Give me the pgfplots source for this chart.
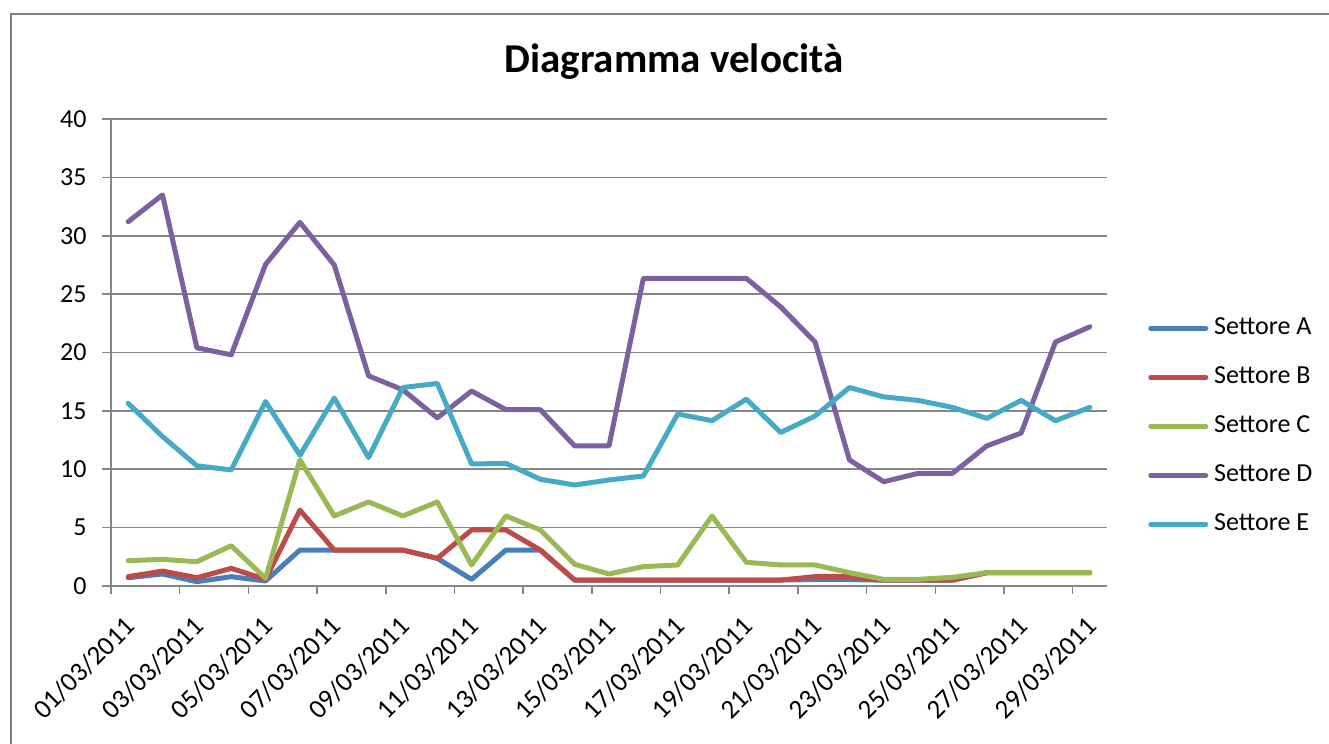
\documentclass[border=0pt]{standalone}
\usepackage{fontspec}
\setmainfont{Carlito}
\usepackage{pgfplots}
\usepackage{pgfplotstable}
\pgfplotsset{compat=1.18}
\definecolor{cA}{RGB}{74,126,187}
\definecolor{cB}{RGB}{190,75,72}
\definecolor{cC}{RGB}{152,185,84}
\definecolor{cD}{RGB}{125,96,160}
\definecolor{cE}{RGB}{70,170,197}
\definecolor{gridgray}{RGB}{134,134,134}
\definecolor{framegray}{RGB}{128,128,128}
\pgfplotstableread{
i A B C D E
0 0.71 0.80 2.17 31.2 15.65
1 1.03 1.28 2.28 33.5 12.8
2 0.37 0.71 2.08 20.4 10.3
3 0.80 1.51 3.45 19.8 9.94
4 0.43 0.57 0.66 27.55 15.8
5 3.08 6.5 10.8 31.15 11.2
6 3.08 3.08 6.0 27.5 16.1
7 3.08 3.08 7.2 18.0 11.0
8 3.08 3.08 6.0 16.8 17.0
9 2.37 2.37 7.2 14.4 17.35
10 0.57 4.8 1.8 16.7 10.45
11 3.08 4.8 6.0 15.1 10.5
12 3.08 3.08 4.8 15.1 9.14
13 0.51 0.51 1.86 12.0 8.65
14 0.51 0.51 1.03 12.0 9.08
15 0.51 0.51 1.66 26.35 9.42
16 0.51 0.51 1.8 26.35 14.73
17 0.51 0.51 6.0 26.35 14.16
18 0.51 0.51 2.03 26.35 16.0
19 0.51 0.51 1.8 23.9 13.15
20 0.55 0.8 1.8 20.9 14.56
21 0.55 0.8 1.14 10.8 17.0
22 0.5 0.5 0.57 8.93 16.2
23 0.5 0.5 0.57 9.65 15.9
24 0.5 0.5 0.74 9.65 15.3
25 1.14 1.14 1.14 12.0 14.36
26 1.14 1.14 1.14 13.1 15.9
27 1.14 1.14 1.14 20.9 14.16
28 1.14 1.14 1.14 22.2 15.3
}\data
\begin{document}
\begin{tikzpicture}
\useasboundingbox (-55.5pt,-79pt) rectangle (609pt,293pt);
\draw[framegray, line width=1pt] (-50pt,-80pt) -- (-50pt,286pt) -- (610pt,286pt);
\begin{axis}[
  at={(0pt,0pt)}, anchor=south west,
  scale only axis, width=498pt, height=233.5pt,
  xmin=-0.5, xmax=28.5, ymin=0, ymax=40,
  axis x line*=bottom, axis y line*=left,
  axis line style={-, gridgray, line width=0.75pt},
  tick align=outside,
  major tick length=4.25pt,
  tick style={gridgray, line width=0.75pt},
  ytick={0,5,...,40},
  ymajorgrids,
  grid style={gridgray, line width=0.75pt},
  xtick={-0.5,1.5,...,27.5},
  xticklabels={},
  extra x ticks={0,2,...,28},
  extra x tick labels={01/03/2011,03/03/2011,05/03/2011,07/03/2011,09/03/2011,11/03/2011,13/03/2011,15/03/2011,17/03/2011,19/03/2011,21/03/2011,23/03/2011,25/03/2011,27/03/2011,29/03/2011},
  extra x tick style={major tick length=0pt, grid=none},
  xticklabel style={xshift=-2.5pt, yshift=-9.5pt, rotate=45, anchor=north east, font=\fontsize{13.5}{16}\selectfont},
  yticklabel style={xshift=-4.5pt, font=\fontsize{13}{15}\selectfont},
  /pgf/number format/assume math mode=true,
  legend style={at={(rel axis cs:1.035,0.587)}, anchor=north west, draw=none, fill=none,
    row sep=12.5pt, font=\fontsize{13}{15}\selectfont,
    nodes={inner sep=0pt, text height=9pt, text depth=3pt}},
  legend cell align=left,
  legend image code/.code={\draw[#1, line cap=round] (0pt,0pt) -- (27.5pt,0pt);},
  every axis plot/.append style={line width=2.5pt, line join=round, line cap=round},
]
\addplot[cA] table[x=i,y=A]{\data};
\addplot[cB] table[x=i,y=B]{\data};
\addplot[cC] table[x=i,y=C]{\data};
\addplot[cD] table[x=i,y=D]{\data};
\addplot[cE] table[x=i,y=E]{\data};
\legend{\ Settore A,\ Settore B,\ Settore C,\ Settore D,\ Settore E}
\end{axis}
\node[anchor=base, font=\bfseries\fontsize{20.5}{24}\selectfont] at (281.5pt,256.5pt) {Diagramma velocità};
\end{tikzpicture}
\end{document}
